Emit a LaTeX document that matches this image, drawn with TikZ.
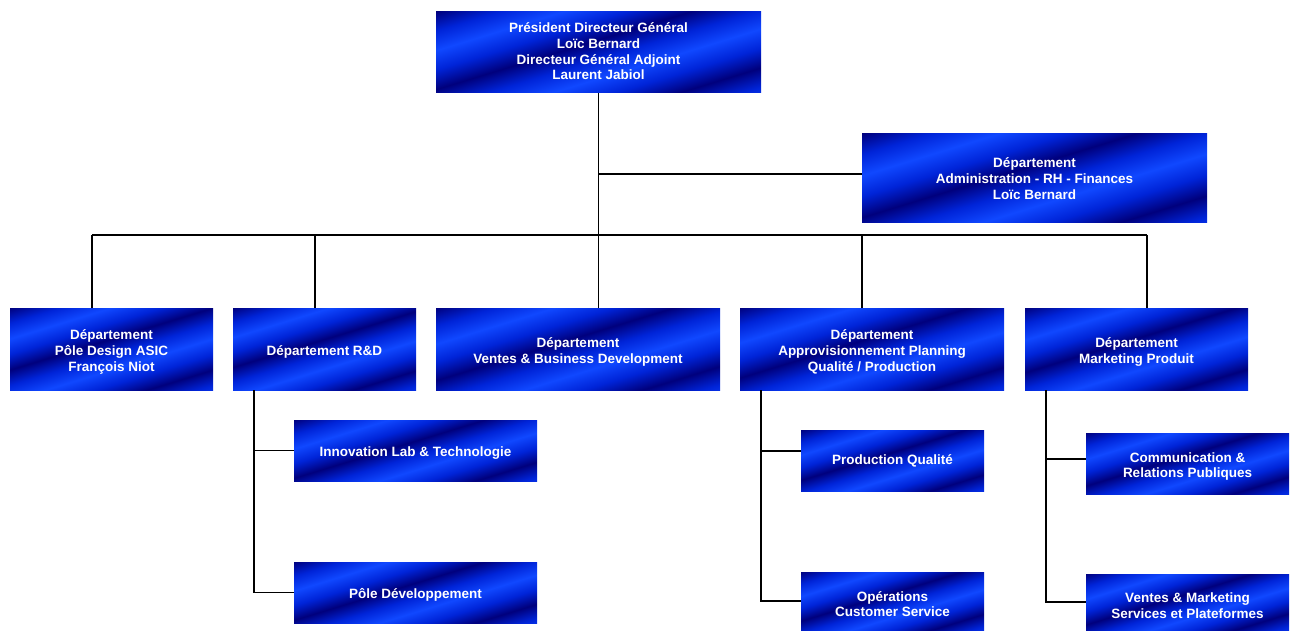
\documentclass[tikz,border=0pt]{standalone}
\usepackage{fontspec}
\setmainfont{Liberation Sans}
\definecolor{dk}{RGB}{0,0,125}
\definecolor{md}{RGB}{0,36,216}
\definecolor{br}{RGB}{16,72,255}
\pgfdeclareverticalshading{stripes}{100bp}{color(0bp)=(dk); color(0.5bp)=(dk); color(7.25bp)=(md); color(14bp)=(br); color(20.75bp)=(md); color(27.5bp)=(dk); color(34.25bp)=(md); color(41bp)=(br); color(47.75bp)=(md); color(54.5bp)=(dk); color(61.25bp)=(md); color(68bp)=(br); color(74.75bp)=(md); color(81.5bp)=(dk); color(88.25bp)=(md); color(95bp)=(br); color(100bp)=(br)}
\tikzset{
  box/.style={rectangle, inner sep=0pt, shading=stripes, shading angle=17},
  lab/.style={inner sep=0pt, text=white, align=center,
    font=\fontsize{13.5}{15.7}\selectfont\bfseries},
  link/.style={draw=black, line width=1.8pt, line join=miter}
}
\begin{document}
\begin{tikzpicture}[x=1pt,y=-1pt]
\useasboundingbox (0,0) rectangle (1296,631);
% boxes
\node[box, minimum width=325pt, minimum height=81pt, label={[lab, yshift=1pt]center:{Président Directeur Général\\Loïc Bernard\\Directeur Général Adjoint\\Laurent Jabiol}}] (top) at (598.5,52.5) {};
\node[box, minimum width=345pt, minimum height=89pt, label={[lab]center:{Département\\Administration - RH - Finances\\Loïc Bernard}}] (admin) at (1034.5,178.5) {};
\node[box, minimum width=203pt, minimum height=82pt, label={[lab, yshift=-3pt]center:{Département\\Pôle Design ASIC\\François Niot}}] (b1) at (111.5,349) {};
\node[box, minimum width=183pt, minimum height=82pt, label={[lab, yshift=-3pt]center:{Département R\&D}}] (b2) at (324.5,349) {};
\node[box, minimum width=284pt, minimum height=82pt, label={[lab, yshift=-3pt]center:{Département\\Ventes \& Business Development}}] (b3) at (578,349) {};
\node[box, minimum width=264pt, minimum height=82pt, label={[lab, yshift=-3pt]center:{Département\\Approvisionnement Planning\\Qualité / Production}}] (b4) at (872,349) {};
\node[box, minimum width=223pt, minimum height=82pt, label={[lab, yshift=-3pt]center:{Département\\Marketing Produit}}] (b5) at (1136.5,349) {};
\node[box, minimum width=243pt, minimum height=61pt, label={[lab, yshift=-3pt]center:{Innovation Lab \& Technologie}}] (s1) at (415.5,450.5) {};
\node[box, minimum width=243pt, minimum height=61pt, label={[lab, yshift=-2pt]center:{Pôle Développement}}] (s2) at (415.5,592.5) {};
\node[box, minimum width=183pt, minimum height=61pt, label={[lab]center:{Production Qualité}}] (s3) at (892.5,460.5) {};
\node[box, minimum width=183pt, minimum height=58pt, label={[lab, yshift=-3pt]center:{Opérations\\Customer Service}}] (s4) at (892.5,601) {};
\node[box, minimum width=203pt, minimum height=61pt, label={[lab, yshift=-3pt]center:{Communication \&\\Relations Publiques}}] (s5) at (1187.5,463.5) {};
\node[box, minimum width=203pt, minimum height=56pt, label={[lab, yshift=-3.5pt]center:{Ventes \& Marketing\\Services et Plateformes}}] (s6) at (1187.5,602) {};
% junctions
\coordinate (ja) at (598.5,174);
\coordinate (j) at (598.5,235);
\coordinate (d1) at (92,235);
\coordinate (d2) at (315,235);
\coordinate (d4) at (862,235);
\coordinate (d5) at (1147,235);
\coordinate (r) at (254,0);
\coordinate (p) at (761,0);
\coordinate (p3) at (761,451);
\coordinate (m) at (1046,0);
\coordinate (m5) at (1046,459);
% connectors
\draw[link] (top.south) -- (j);
\draw[link] (ja) -- (ja -| admin.west);
\draw[link] (d1) -- (d5);
\draw[link] (d1) -- (d1 |- b1.north);
\draw[link] (d2) -- (d2 |- b2.north);
\draw[link] (j) -- (j |- b3.north);
\draw[link] (d4) -- (d4 |- b4.north);
\draw[link] (d5) -- (d5 |- b5.north);
\draw[link] (r |- b2.south) -- (r |- s2.west) -- (s2.west);
\draw[link] (r |- s1.west) -- (s1.west);
\draw[link] (p |- b4.south) -- (p |- s4.west) -- (s4.west);
\draw[link] (p3) -- (p3 -| s3.west);
\draw[link] (m |- b5.south) -- (m |- s6.west) -- (s6.west);
\draw[link] (m5) -- (m5 -| s5.west);
\end{tikzpicture}
\end{document}
